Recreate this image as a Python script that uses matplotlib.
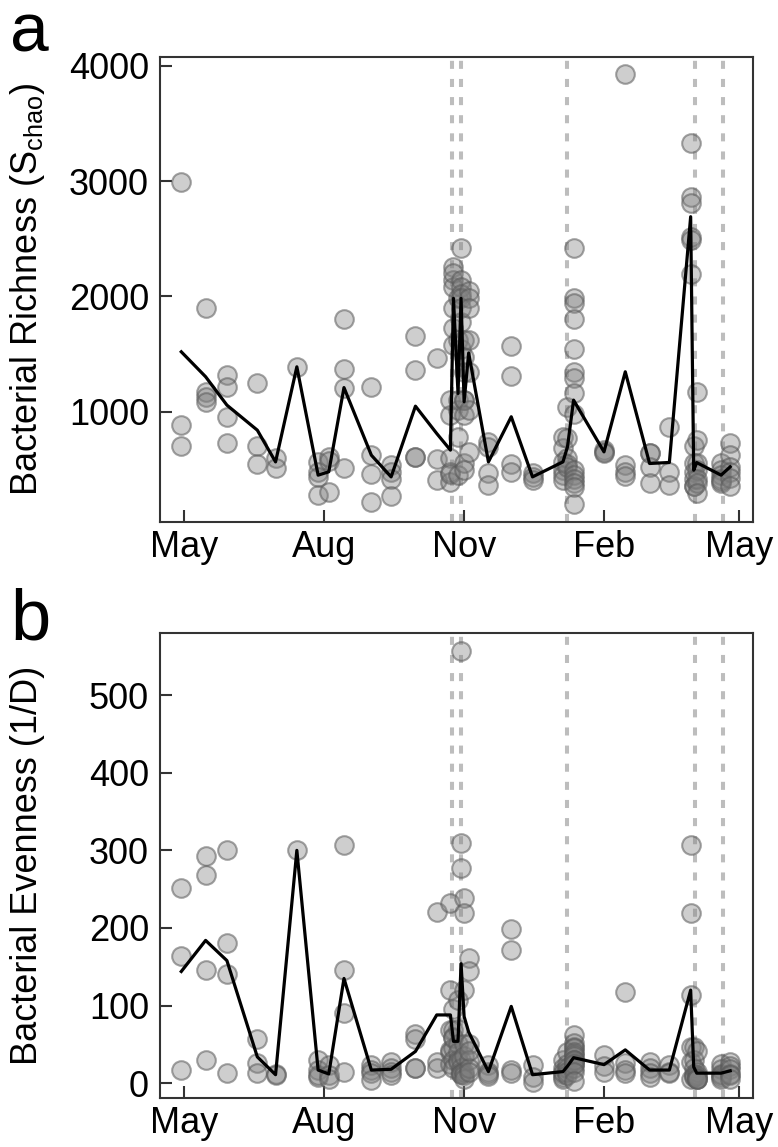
import numpy as np
import pandas as pd
import matplotlib
matplotlib.use("Agg")
import matplotlib.pyplot as plt

plt.rcParams["font.family"] = ["Liberation Sans", "DejaVu Sans"]
plt.rcParams["mathtext.fontset"] = "custom"
plt.rcParams["mathtext.rm"] = "Liberation Sans"

# sampling dates (one entry per sampling day)
sample_dates = pd.to_datetime([
    "2013-04-29", "2013-05-15", "2013-05-29", "2013-06-18", "2013-06-30",
    "2013-07-14", "2013-07-28", "2013-08-04", "2013-08-14", "2013-09-01",
    "2013-09-14", "2013-09-30", "2013-10-14", "2013-10-23", "2013-10-25",
    "2013-10-28", "2013-10-30", "2013-11-01", "2013-11-04", "2013-11-17",
    "2013-12-02", "2013-12-16", "2014-01-05", "2014-01-08", "2014-01-12",
    "2014-02-01", "2014-02-15", "2014-03-03", "2014-03-16", "2014-03-30",
    "2014-04-01", "2014-04-03", "2014-04-19", "2014-04-25",
])

# richness (S_chao) of each sample, grouped by sampling date
richness = [
    [2990, 885, 705], [1897, 1174, 1130, 1087], [1318, 1211, 957, 726],
    [1246, 705, 552], [596, 509], [1390], [566, 480, 436, 278],
    [610, 575, 306], [1801, 1370, 1203, 509], [1211, 624, 460, 219],
    [538, 480, 422, 269], [1659, 1362, 610, 610], [1463, 587, 408],
    [1101, 971, 600, 480, 393, 460],
    [2258, 2142, 2084, 1897, 1723, 2200, 1580],
    [1983, 1622, 1101, 1015, 783, 450],
    [2417, 2142, 2084, 2020, 1983, 1897, 1780, 1541],
    [1622, 1477, 1347, 1101, 1100, 971, 560, 500],
    [2050, 1983, 1897, 1622, 1347, 1015, 650],
    [740, 697, 466, 364], [1573, 1310, 552, 480], [466, 436, 408],
    [783, 685, 566, 500, 450, 408], [1043, 770, 600, 550, 520],
    [2417, 1983, 1940, 1801, 1541, 1347, 1290, 1159, 985, 500, 450, 420,
     380, 350, 205],
    [670, 650, 640], [3929, 538, 480, 440], [639, 639, 523, 379],
    [870, 480, 364], [3328, 2865, 2807, 2518, 2489, 2194],
    [700, 560, 480, 420, 360, 360], [1174, 755, 560, 500, 420, 380, 300],
    [560, 500, 450, 420, 380, 400], [726, 624, 520, 480, 430, 360],
]
richness_mean = [1520, 1304, 1058, 841, 566, 1390, 451, 480, 1210, 624,
                 436, 1049, 812, 668, 1983, 1159, 1983, 1087, 1510, 566,
                 957, 436, 566, 697, 1101, 653, 1347, 552, 561, 2691,
                 494, 560, 451, 523]

# evenness (1/D) of the same samples
evenness = [
    [251, 164, 17], [293, 268, 146, 30], [300, 181, 141, 13],
    [57, 26, 13], [12, 10], [300], [30, 17, 8, 10],
    [24, 11, 6], [307, 146, 90, 14], [24, 17, 13, 4],
    [28, 20, 15, 11], [64, 57, 20, 20], [220, 28, 20],
    [232, 120, 68, 40, 25, 43],
    [96, 69, 60, 45, 30, 20, 58],
    [107, 70, 50, 40, 30, 27],
    [557, 309, 277, 30, 20, 15, 12, 12],
    [238, 219, 120, 50, 35, 15, 10, 5],
    [161, 145, 50, 30, 20, 15, 41],
    [24, 15, 12, 9], [199, 172, 17, 13], [24, 8, 2],
    [30, 20, 12, 8, 5, 15], [40, 25, 20, 15, 10],
    [62, 52, 47, 45, 40, 38, 35, 30, 28, 25, 20, 30, 25, 15, 3],
    [36, 22, 14], [118, 26, 17, 13], [28, 20, 13, 8],
    [24, 15, 13], [307, 219, 114, 47, 28, 5],
    [47, 30, 20, 12, 8, 9], [42, 15, 10, 8, 6, 5, 5],
    [25, 18, 12, 10, 8, 5], [28, 22, 18, 12, 10, 6],
]
evenness_mean = [144, 184, 158, 34, 11, 300, 17, 12, 135, 17,
                 18, 41, 88, 88, 54, 54, 154, 86, 66, 15,
                 99, 11, 15, 22, 33, 24, 43, 17, 17, 120,
                 21, 13, 13, 16]

event_dates = pd.to_datetime(["2013-10-24", "2013-10-30", "2014-01-08",
                              "2014-04-02", "2014-04-20"])
tick_dates = pd.to_datetime(["2013-05-01", "2013-08-01", "2013-11-01",
                             "2014-02-01", "2014-05-01"])
tick_labels = ["May", "Aug", "Nov", "Feb", "May"]

W, H = 778, 1147
fig = plt.figure(figsize=(W / 100, H / 100), dpi=100)
ax_a = fig.add_axes([160 / W, 1 - 522 / H, 593 / W, 465 / H])
ax_b = fig.add_axes([160 / W, 1 - 1098 / H, 593 / W, 465 / H])


def draw_panel(ax, pts, means, ylim, yticks):
    for d in event_dates:
        ax.axvline(d, color="#bdbdbd", lw=2.9, ls=(0, (2, 2.5)), zorder=1)
    counts = [len(v) for v in pts]
    x = sample_dates.repeat(counts)
    y = np.concatenate(pts)
    ax.scatter(x, y, s=180, facecolor=(0.5, 0.5, 0.5, 0.38),
               edgecolor=(0.35, 0.35, 0.35, 0.55), lw=1.5, zorder=2)
    ax.plot(sample_dates, means, color="black", lw=2.3, zorder=3)
    ax.set_xlim(pd.Timestamp("2013-04-15"), pd.Timestamp("2014-05-10"))
    ax.set_ylim(*ylim)
    ax.set_xticks(tick_dates)
    ax.set_xticklabels(tick_labels)
    ax.set_yticks(yticks)
    ax.tick_params(direction="in", length=8.5, width=1.5, labelsize=26,
                   color="#333333")
    ax.tick_params(axis="x", pad=6)
    ax.tick_params(axis="y", pad=8)
    for sp in ax.spines.values():
        sp.set_linewidth(1.5)
        sp.set_color("#333333")


draw_panel(ax_a, richness, richness_mean, (45, 4075), [1000, 2000, 3000, 4000])
draw_panel(ax_b, evenness, evenness_mean, (-19, 580), [0, 100, 200, 300, 400, 500])

fig.text(28 / W, 1 - 289.5 / H, r"Bacterial Richness (S$_{\mathregular{chao}}$)",
         rotation=90, ha="center", va="center", fontsize=26)
fig.text(28 / W, 1 - 865.5 / H, "Bacterial Evenness (1/D)",
         rotation=90, ha="center", va="center", fontsize=26)

fig.text(10 / W, 1 - 52 / H, "a", fontsize=50, va="baseline", ha="left")
fig.text(10 / W, 1 - 640 / H, "b", fontsize=52, va="baseline", ha="left")

fig.savefig("out.png", dpi=100)
